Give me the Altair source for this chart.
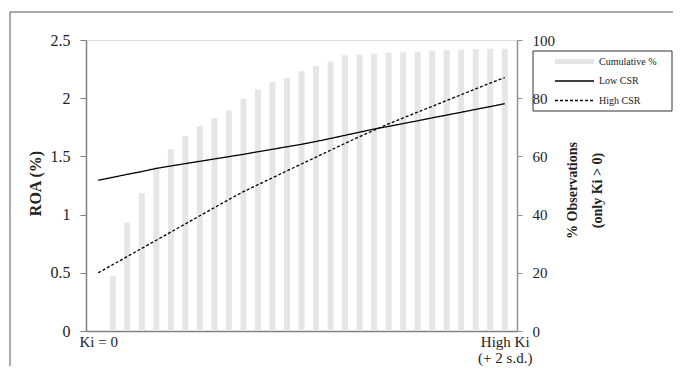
import altair as alt
import pandas as pd

# ---- data ----
idx = list(range(29))
cum_pct = [0, 19.0, 37.3, 47.3, 56.2, 62.5, 67.0, 70.4, 73.1, 75.8, 79.8, 83.0, 85.6, 87.0,
           89.3, 91.1, 92.6, 94.8, 94.9, 95.3, 95.6, 95.8, 96.0, 96.2, 96.5, 96.7, 96.9, 97.0, 97.0]
low_csr = [1.295, 1.32, 1.346, 1.37, 1.397, 1.418, 1.438, 1.458, 1.478, 1.498, 1.518, 1.540,
           1.561, 1.583, 1.604, 1.628, 1.654, 1.681, 1.708, 1.735, 1.758, 1.782, 1.806, 1.831,
           1.855, 1.879, 1.904, 1.928, 1.953]
high_csr = [0.50, 0.57, 0.64, 0.71, 0.78, 0.85, 0.92, 0.99, 1.06, 1.13, 1.197, 1.257, 1.316,
            1.376, 1.435, 1.494, 1.553, 1.612, 1.670, 1.725, 1.78, 1.83, 1.88, 1.93, 1.98,
            2.03, 2.08, 2.13, 2.176]
series_names = ["Low CSR", "High CSR"]
legend_labels = ["Cumulative %", "Low CSR", "High CSR"]
x_tick_values = [0, 28]

FONT = "Liberation Serif"

bars_df = pd.DataFrame({"i": idx, "pct": cum_pct})
lines_df = pd.DataFrame({
    "i": idx * 2,
    "roa": low_csr + high_csr,
    "series": [series_names[0]] * 29 + [series_names[1]] * 29,
})

x_axis = alt.Axis(
    values=x_tick_values, ticks=False, grid=False, title=None,
    labelExpr="datum.value == 0 ? 'Ki = 0' : ['High Ki', '(+ 2 s.d.)']",
    labelFont=FONT, labelFontSize=15, labelColor="#222", labelLineHeight=16,
    labelBaseline="top", labelPadding=3, labelFlush=False,
    domainColor="#808080", domainWidth=1.5,
)
x_enc = alt.X("i:Q", scale=alt.Scale(domain=[-0.5, 28.5], nice=False, zero=False), axis=x_axis)

bars = alt.Chart(bars_df).mark_bar(size=6, color="#e6e6e6").encode(
    x=x_enc,
    y=alt.Y("pct:Q", scale=alt.Scale(domain=[0, 100], nice=False),
            axis=alt.Axis(orient="right", values=[0, 20, 40, 60, 80, 100], grid=False,
                          title=["% Observations", "(only Ki > 0)"],
                          titleFont=FONT, titleFontSize=14, titleFontWeight="bold",
                          titleColor="#222", titleAngle=270, titleLineHeight=25,
                          titleX=55, titleY=150, titleBaseline="middle", titleAlign="center",
                          labelFont=FONT, labelFontSize=15, labelColor="#222", labelPadding=10,
                          tickSize=5, tickColor="#909090", domainColor="#909090",
                          domainWidth=1.5, zindex=1)),
)

lines = alt.Chart(lines_df).mark_line(color="black", strokeWidth=1.3).encode(
    x=x_enc,
    y=alt.Y("roa:Q", scale=alt.Scale(domain=[0, 2.5], nice=False),
            axis=alt.Axis(orient="left", values=[0, 0.5, 1, 1.5, 2, 2.5], format="~g",
                          grid=False, title="ROA (%)",
                          titleFont=FONT, titleFontSize=16, titleFontWeight="bold",
                          titleColor="#222", titleAngle=270, titleX=-51, titleY=143,
                          titleBaseline="middle", titleAlign="center",
                          labelFont=FONT, labelFontSize=16, labelColor="#222",
                          labelPadding=10, tickSize=6, tickColor="#808080",
                          domainColor="#808080", domainWidth=1.5)),
    strokeDash=alt.StrokeDash("series:N",
                              scale=alt.Scale(domain=series_names, range=[[1, 0], [3, 2]]),
                              legend=None),
)

# ---- legend box (decoration) ----
one = pd.DataFrame({"k": [0]})
legend_box = alt.Chart(one).mark_rect(fill="white", stroke="#333", strokeWidth=1).encode(
    x=alt.value(447), x2=alt.value(586), y=alt.value(11), y2=alt.value(71))
leg_bar = alt.Chart(one).mark_rule(color="#e6e6e6", strokeWidth=5).encode(
    x=alt.value(469), x2=alt.value(508), y=alt.value(21.5))
leg_low = alt.Chart(one).mark_rule(color="black", strokeWidth=1.3).encode(
    x=alt.value(469), x2=alt.value(508), y=alt.value(41))
leg_high = alt.Chart(one).mark_rule(color="black", strokeWidth=1.3, strokeDash=[3, 2]).encode(
    x=alt.value(469), x2=alt.value(508), y=alt.value(60.5))
leg_texts = []
for lab, yy in zip(legend_labels, [21.5, 41, 60.5]):
    leg_texts.append(
        alt.Chart(pd.DataFrame({"t": [lab]})).mark_text(
            font=FONT, fontSize=10, align="left", baseline="middle", color="#222"
        ).encode(x=alt.value(513), y=alt.value(yy), text="t:N"))

# ---- outer chart frame (decoration) ----
frame_top = alt.Chart(one).mark_rule(color="#555", strokeWidth=1).encode(
    x=alt.value(-76), x2=alt.value(600), y=alt.value(-28))
frame_left = alt.Chart(one).mark_rule(color="#555", strokeWidth=1).encode(
    x=alt.value(-76), y=alt.value(-28), y2=alt.value(340))

chart = alt.layer(
    bars, lines, legend_box, leg_bar, leg_low, leg_high, *leg_texts, frame_top, frame_left
).resolve_scale(y="independent").properties(
    width=431, height=291,
    autosize=alt.AutoSizeParams(type="none"),
    padding={"left": 78, "top": 32, "right": 156, "bottom": 35},
).configure_view(stroke="#b0b0b0", strokeWidth=1).configure(background="white")

chart.save("out.html", embed_options={"renderer": "svg", "actions": False})
